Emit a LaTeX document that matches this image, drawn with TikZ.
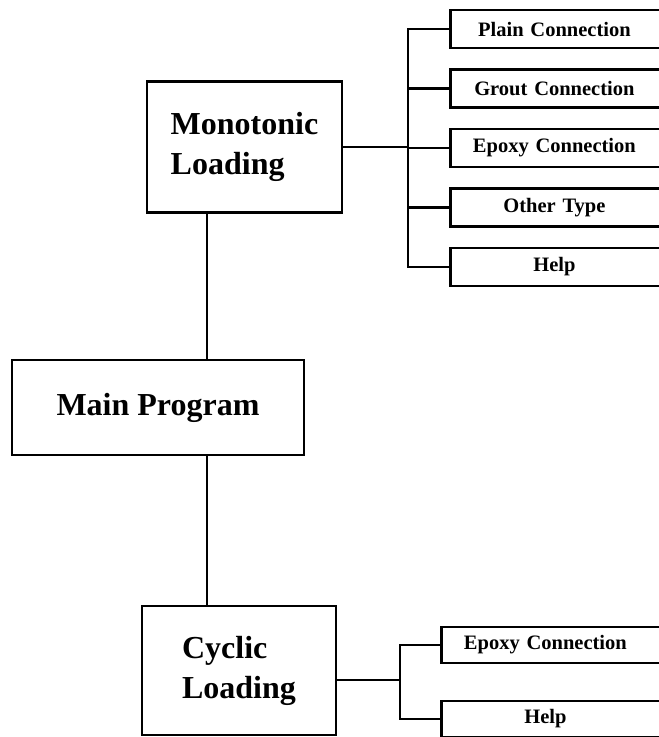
\documentclass[tikz,border=0pt]{standalone}
\usepackage{fontspec}
\setmainfont{Liberation Serif}
\usepackage{tikz}

\newcommand{\optlabel}[1]{\makebox[208pt]{#1}}
\tikzset{
  bigbox/.style={draw, line width=2.8pt, inner sep=0pt, align=left,
    font=\fontsize{32}{40}\selectfont\bfseries},
  optbox/.style={draw, line width=2.8pt, inner sep=0pt, anchor=west,
    text width=260pt, align=left, minimum height=38pt,
    font=\fontsize{20.5}{24}\selectfont\bfseries},
  link/.style={line width=2.5pt}
}

\begin{document}
\begin{tikzpicture}[x=1pt,y=-1pt]
\path[use as bounding box] (0,0) rectangle (659,737);
\clip (0,0) rectangle (659,737);
%main blocks
\node[bigbox, minimum width=195pt, minimum height=131pt] (mono) at (244.5,147) {Monotonic\\Loading};
\node[bigbox, minimum width=292pt, minimum height=95pt] (main) at (158,407.5) {Main Program};
\node[bigbox, minimum width=194pt, minimum height=129pt] (cyc) at (239,670.5) {Cyclic\\Loading};
\coordinate (trunk) at (207,0);
\draw[link] (mono.south -| trunk) -- (main.north -| trunk);
\draw[link] (main.south -| trunk) -- (cyc.north -| trunk);
%monotonic options
\node[optbox] (plain) at (449,29) {\optlabel{Plain Connection}};
\node[optbox] (grout) at (449,88.5) {\optlabel{Grout Connection}};
\node[optbox] (epoxy) at (449,148) {\optlabel{Epoxy Connection}};
\node[optbox] (other) at (449,207.5) {\optlabel{Other Type}};
\node[optbox] (help) at (449,267) {\optlabel{Help}};
\coordinate (mbus) at (408,0);
\draw[link] (plain.west) -| (mbus |- help.west) -- (help.west);
\foreach \b in {grout,epoxy,other}
  \draw[link] (mbus |- \b.west) -- (\b.west);
\draw[link] (mono.east) -- (mono.east -| mbus);
%cyclic options
\node[optbox, minimum height=36pt] (cepoxy) at (440,645) {\optlabel{Epoxy Connection}};
\node[optbox, minimum height=36pt] (chelp) at (440,719) {\optlabel{Help}};
\coordinate (cbus) at (400,680);
\draw[link] (cepoxy.west) -| (cbus |- chelp.west) -- (chelp.west);
\draw[link] (cbus -| cyc.east) -- (cbus);
\end{tikzpicture}
\end{document}
